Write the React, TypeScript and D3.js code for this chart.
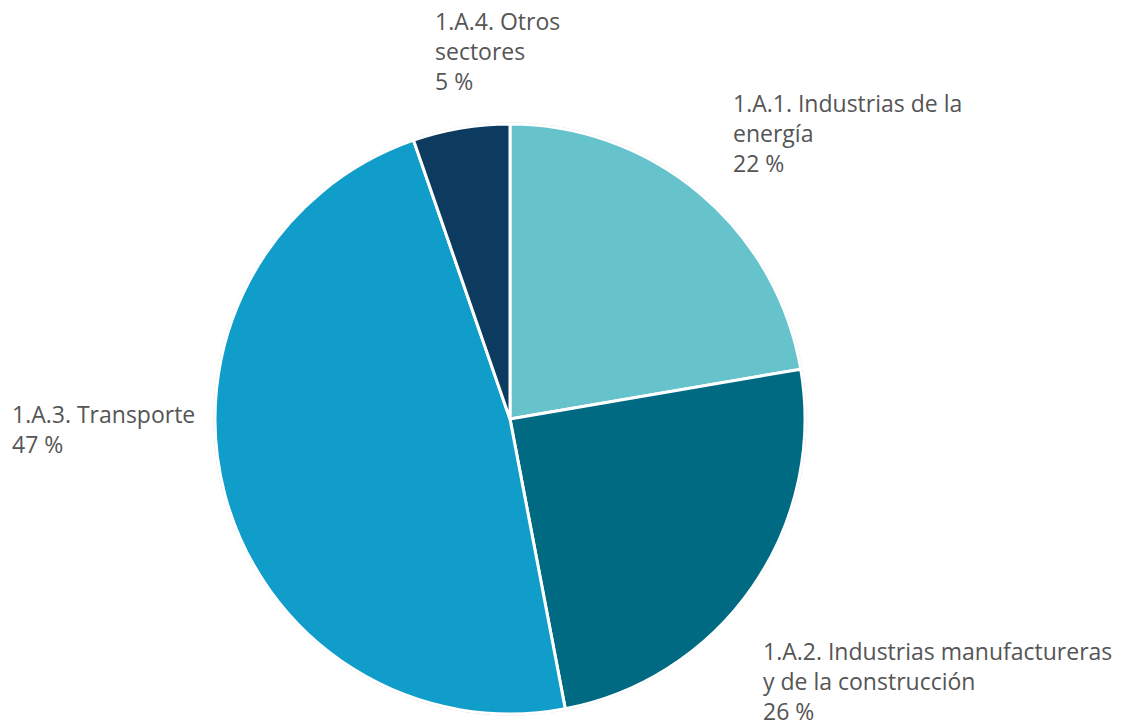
import React from "react";
import * as d3 from "d3";

const categories = [
  "1.A.1. Industrias de la energía",
  "1.A.2. Industrias manufactureras y de la construcción",
  "1.A.3. Transporte",
  "1.A.4. Otros sectores",
];
const values = [22.3, 24.7, 47.7, 5.3];
const pctLabels = ["22 %", "26 %", "47 %", "5 %"];
const labelLines = [
  ["1.A.1. Industrias de la", "energía"],
  ["1.A.2. Industrias manufactureras", "y de la construcción"],
  ["1.A.3. Transporte"],
  ["1.A.4. Otros", "sectores"],
];
const colors = ["#66C3CC", "#006A82", "#109DCA", "#0D3B60"];
const labelPos = [
  [733, 112],
  [763, 660],
  [12, 423],
  [435, 30],
];

export default function App() {
  const W = 1126, H = 723;
  const cx = 510, cy = 419, r = 295;
  const pie = d3.pie<number>().sort(null).value((d) => d)(values);
  const arc = d3.arc<d3.PieArcDatum<number>>().innerRadius(0).outerRadius(r);
  return (
    <svg width={W} height={H} style={{ position: "absolute", left: 0, top: 0, background: "#fff" }}>
      <circle cx={cx} cy={cy} r={r + 1} fill="none" stroke="#c8c8d0" strokeWidth={1} />
      <g transform={`translate(${cx},${cy})`}>
        {pie.map((p, i) => (
          <path key={categories[i]} d={arc(p) || ""} fill={colors[i]} stroke="#fff" strokeWidth={3} strokeLinejoin="round" />
        ))}
      </g>
      {labelLines.map((lines, i) => (
        <text key={i} x={labelPos[i][0]} y={labelPos[i][1]} fill="#555555" fontFamily="'Open Sans', sans-serif" fontWeight={500} fontSize={23}>
          {[...lines, pctLabels[i]].map((l, j) => (
            <tspan key={j} x={labelPos[i][0]} dy={j === 0 ? 0 : 30}>{l}</tspan>
          ))}
        </text>
      ))}
    </svg>
  );
}
